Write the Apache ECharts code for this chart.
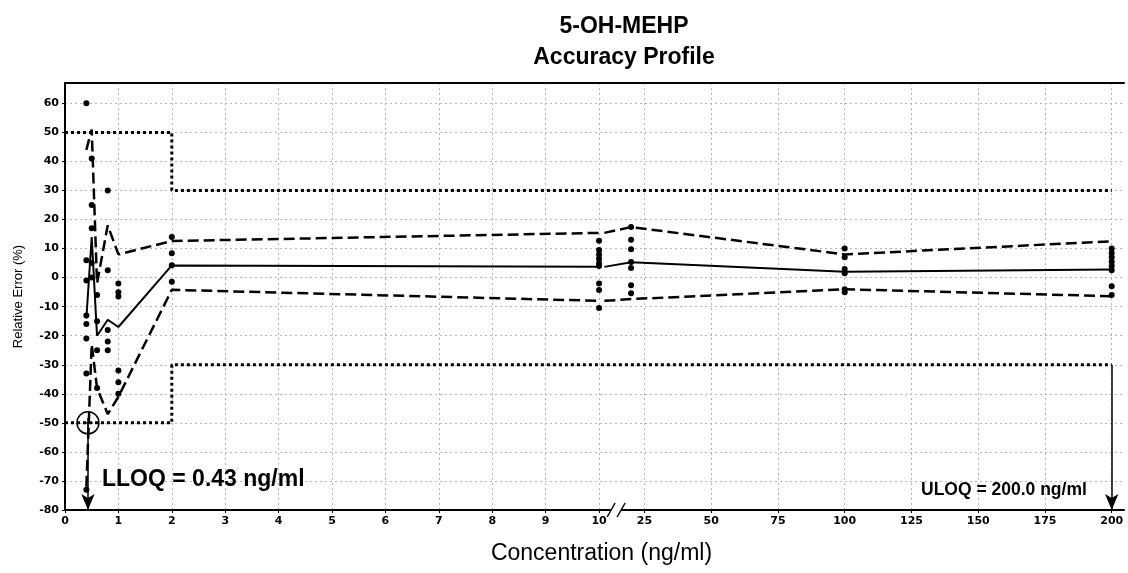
<!DOCTYPE html>
<html>
<head>
<meta charset="utf-8">
<script src="https://cdn.jsdelivr.net/npm/echarts@6/dist/echarts.min.js"></script>
<style>
  html, body { margin: 0; background: #fff; }
  #chart { width: 1128px; height: 573px; }
</style>
</head>
<body>
<div id="chart"></div>
<script>
// concentration levels (ng/ml) of the validation standards
var concLevels = [0.4, 0.5, 0.6, 0.8, 1, 2, 10, 20, 100, 200];
// mean relative bias (%) and beta-expectation tolerance limits (%)
var meanBias = [-14, 14, -20, -14.5, -17, 4.2, 3.7, 5.3, 2, 2.8];
var upperTol = [44, 51, -2, 18, 8, 12.6, 15.4, 17.4, 8, 12.5];
var lowerTol = [-72, -23, -38, -47, -41, -4.2, -8, -7.4, -4, -6.4];
// individual relative errors (%) per level
var replicates = [
  [60, 6, -1, -13, -16, -21, -33, -73],
  [41, 25, 17, 5, 0],
  [-6, -15, -25, -38],
  [30, 2.5, -18, -22, -25],
  [-2, -5, -6.5, -32, -36, -40],
  [14, 8.4, 4.3, -1.4],
  [12.7, 9.5, 8, 6.5, 5, 4, -2, -4.3, -10.5],
  [17.4, 13, 9.8, 5.4, 3.3, -2.6, -5.4],
  [10, 7, 3, 1.5, -4, -5],
  [10, 8.5, 7, 5.5, 4, 2.5, -3, -6]
];
// acceptance limits (%)
var accConc = [0, 2, 2, 200];
var accUpper = [50, 50, 30, 30];
var accLower = [-50, -50, -30, -30];
var lloq = 0.43;
var uloq = 200;
// axis ticks
var xTicks = [0, 1, 2, 3, 4, 5, 6, 7, 8, 9, 10, 25, 50, 75, 100, 125, 150, 175, 200];
var yTicks = [-80, -70, -60, -50, -40, -30, -20, -10, 0, 10, 20, 30, 40, 50, 60];

// broken axis: 0-10 linear, then compressed scale after the break
function tx(c, rightSide) {
  if (c < 10 || (c === 10 && !rightSide)) return c;
  return 10.1 + (c - 10) * 0.05;
}
var xTickPos = xTicks.map(function (c) { return tx(c); });

function leftPart(vals) {
  var out = [];
  concLevels.forEach(function (c, i) { if (c <= 10) out.push([tx(c), vals[i]]); });
  return out;
}
function rightPart(vals) {
  var out = [];
  concLevels.forEach(function (c, i) {
    if (c === 10) out.push([tx(c, true), vals[i]]);
    if (c > 10) out.push([tx(c), vals[i]]);
  });
  return out;
}
var points = [];
concLevels.forEach(function (c, i) {
  replicates[i].forEach(function (v) { points.push([tx(c), v]); });
});
function accData(vals) {
  return accConc.map(function (c, i) { return [tx(c), vals[i]]; });
}

var dashStyle = { color: '#000', width: 2.5, type: [11, 5] };
var solidStyle = { color: '#000', width: 2 };
var dotStyle = { color: '#000', width: 3, type: [3, 3] };

function lineSeries(data, style) {
  return { type: 'line', data: data, symbol: 'none', lineStyle: style, z: 3, silent: true };
}

var chart = echarts.init(document.getElementById('chart'));
chart.setOption({
  animation: false,
  title: {
    text: '5-OH-MEHP\nAccuracy Profile',
    left: 619,
    textAlign: 'center',
    top: 6,
    textStyle: { fontSize: 23, fontWeight: 'bold', lineHeight: 31, color: '#000', fontFamily: 'Liberation Sans' }
  },
  grid: { left: 65, right: 4, top: 83, bottom: 63 },
  xAxis: [{
    type: 'value', min: 0, max: 19.83,
    axisLine: { onZero: false, lineStyle: { color: '#000', width: 2 } },
    axisTick: { customValues: xTickPos, length: 3, lineStyle: { color: '#000' } },
    axisLabel: {
      customValues: xTickPos, margin: 6, color: '#000', fontWeight: 'bold', fontSize: 11, fontFamily: 'DejaVu Sans',
      formatter: function (v) {
        for (var i = 0; i < xTickPos.length; i++) if (Math.abs(xTickPos[i] - v) < 1e-6) return String(xTicks[i]);
        return '';
      }
    },
    splitLine: { show: true, lineStyle: { color: '#b5b5b5', type: [2, 3], width: 1 } },
    name: 'Concentration (ng/ml)', nameLocation: 'middle', nameGap: 32,
    nameTextStyle: { fontSize: 23, color: '#000', fontFamily: 'Liberation Sans', padding: [0, 0, 0, 14] }
  }, {
    type: 'value', position: 'top', min: 0, max: 19.83,
    axisLine: { onZero: false, lineStyle: { color: '#000', width: 2 } },
    axisTick: { show: false }, axisLabel: { show: false }, splitLine: { show: false }
  }],
  yAxis: {
    type: 'value', min: -80, max: 67,
    axisLine: { show: true, onZero: false, lineStyle: { color: '#000', width: 2 } },
    axisTick: { show: true, customValues: yTicks, length: 3, lineStyle: { color: '#000' } },
    axisLabel: { customValues: yTicks, margin: 6, color: '#000', fontWeight: 'bold', fontSize: 11, fontFamily: 'DejaVu Sans' },
    splitLine: { show: true, lineStyle: { color: '#b5b5b5', type: [2, 3], width: 1 } },
    name: 'Relative Error (%)', nameLocation: 'middle', nameGap: 40,
    nameTextStyle: { fontSize: 13, color: '#000', fontFamily: 'Liberation Sans' }
  },
  series: [
    lineSeries(accData(accUpper), dotStyle),
    lineSeries(accData(accLower), dotStyle),
    lineSeries(leftPart(upperTol), dashStyle),
    lineSeries(rightPart(upperTol), dashStyle),
    lineSeries(leftPart(lowerTol), dashStyle),
    lineSeries(rightPart(lowerTol), dashStyle),
    lineSeries(leftPart(meanBias), solidStyle),
    lineSeries(rightPart(meanBias), solidStyle),
    {
      type: 'scatter', data: points, symbolSize: 6, itemStyle: { color: '#000', opacity: 1 }, z: 4, silent: true
    },
    {
      type: 'scatter', data: [[tx(lloq), -50]], symbol: 'circle', symbolSize: 22, z: 5, silent: true,
      itemStyle: { color: 'rgba(255,255,255,0)', borderColor: '#000', borderWidth: 1.5, opacity: 1 },
      markLine: {
        silent: true, symbol: ['none', 'arrow'], symbolSize: [10, 16], label: { show: false },
        lineStyle: { color: '#000', type: 'solid', width: 1.5 },
        data: [
          [{ coord: [tx(lloq), -50] }, { coord: [tx(lloq), -80] }],
          [{ coord: [tx(uloq), -30] }, { coord: [tx(uloq), -80] }]
        ]
      }
    },
    {
      type: 'scatter', data: [[tx(lloq), -50]], symbol: 'path://M0,4.4h10v1.2h-10zM4.4,0h1.2v10h-1.2z',
      symbolSize: 10, itemStyle: { color: '#000', opacity: 1 }, z: 5, silent: true
    }
  ]
});

// axis break marker and annotation texts
var bp = chart.convertToPixel({ xAxisIndex: 0, yAxisIndex: 0 }, [10.32, -80]);
chart.setOption({
  graphic: [
    { type: 'rect', shape: { x: bp[0] - 5, y: bp[1] - 2, width: 10, height: 4 }, style: { fill: '#fff' }, z: 100 },
    { type: 'line', shape: { x1: bp[0] - 9, y1: bp[1] + 7, x2: bp[0] - 1, y2: bp[1] - 7 }, style: { stroke: '#000', lineWidth: 1.5 }, z: 101 },
    { type: 'line', shape: { x1: bp[0] + 1, y1: bp[1] + 7, x2: bp[0] + 9, y2: bp[1] - 7 }, style: { stroke: '#000', lineWidth: 1.5 }, z: 101 },
    { type: 'text', left: 102, top: 468, style: { text: 'LLOQ = 0.43 ng/ml', fontSize: 23, fontWeight: 'bold', fontFamily: 'Liberation Sans', fill: '#000' }, z: 100 },
    { type: 'text', left: 921, top: 481, style: { text: 'ULOQ = 200.0 ng/ml', fontSize: 17.5, fontWeight: 'bold', fontFamily: 'Liberation Sans', fill: '#000' }, z: 100 }
  ]
});
</script>
</body>
</html>
